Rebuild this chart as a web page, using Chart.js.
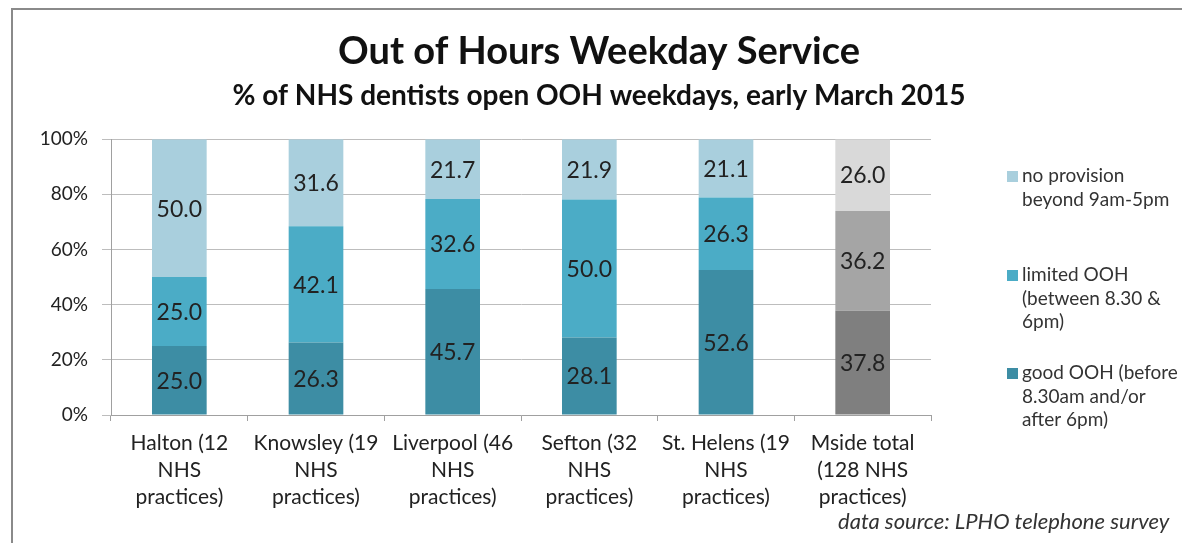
<!DOCTYPE html>
<html>
<head>
<meta charset="utf-8">
<script src="https://cdn.jsdelivr.net/npm/chart.js@4/dist/chart.umd.min.js"></script>
<style>
  html, body { margin: 0; padding: 0; background: #fff; }
  #wrap { position: relative; width: 1182px; height: 543px; overflow: hidden; }
  #frame { position: absolute; left: 11px; top: 8px; width: 1200px; height: 600px; border: 2px solid #8a8a8a; box-sizing: border-box; }
  #source { position: absolute; left: 838px; top: 507px; font: italic 22px Lato, sans-serif; color: #333; }
</style>
</head>
<body>
<div id="wrap">
  <div id="frame"></div>
  <canvas id="chart" width="1182" height="543"></canvas>
  <div id="source">data source: LPHO telephone survey</div>
</div>
<script>
const categories = [
  ['Halton (12', 'NHS', 'practices)'],
  ['Knowsley (19', 'NHS', 'practices)'],
  ['Liverpool (46', 'NHS', 'practices)'],
  ['Sefton (32', 'NHS', 'practices)'],
  ['St. Helens (19', 'NHS', 'practices)'],
  ['Mside total', '(128 NHS', 'practices)']
];
const goodOOH = [25.0, 26.3, 45.7, 28.1, 52.6, 37.8];
const limitedOOH = [25.0, 42.1, 32.6, 50.0, 26.3, 36.2];
const noProvision = [50.0, 31.6, 21.7, 21.9, 21.1, 26.0];
const yTicks = ['0%', '20%', '40%', '60%', '80%', '100%'];

const legendLines = {
  noProvision: ['no provision', 'beyond 9am-5pm'],
  limited: ['limited OOH', '(between 8.30 &', '6pm)'],
  good: ['good OOH (before', '8.30am and/or', 'after 6pm)']
};

// blue for the boroughs, grey for the merseyside total
function colours(blue, grey) {
  return categories.map((c, i) => i === categories.length - 1 ? grey : blue);
}

const FONT = 'Lato';

const valueLabels = {
  id: 'valueLabels',
  afterDatasetsDraw(chart) {
    const ctx = chart.ctx;
    ctx.save();
    ctx.font = '23px ' + FONT;
    ctx.fillStyle = '#222';
    ctx.textAlign = 'center';
    ctx.textBaseline = 'middle';
    chart.data.datasets.forEach((ds, di) => {
      chart.getDatasetMeta(di).data.forEach((bar, i) => {
        const mid = (bar.y + bar.base) / 2;
        ctx.fillText(ds.data[i].toFixed(1), bar.x, mid + 1);
      });
    });
    ctx.restore();
  }
};

const sideLegend = {
  id: 'sideLegend',
  afterDraw(chart) {
    const ctx = chart.ctx;
    const items = [
      { ds: 2, lines: legendLines.noProvision, y: 176 },
      { ds: 1, lines: legendLines.limited, y: 275 },
      { ds: 0, lines: legendLines.good, y: 373 }
    ];
    ctx.save();
    ctx.font = '19px ' + FONT;
    ctx.textBaseline = 'middle';
    items.forEach(it => {
      ctx.fillStyle = chart.data.datasets[it.ds].backgroundColor[0];
      ctx.fillRect(1007, it.y - 5, 11, 11);
      ctx.fillStyle = '#333';
      it.lines.forEach((l, k) => ctx.fillText(l, 1022, it.y + k * 23.5));
    });
    ctx.restore();
  }
};

new Chart(document.getElementById('chart'), {
  type: 'bar',
  data: {
    labels: categories,
    datasets: [
      { label: 'good OOH', data: goodOOH, backgroundColor: colours('#3D8DA4', '#7F7F7F') },
      { label: 'limited OOH', data: limitedOOH, backgroundColor: colours('#4BACC6', '#A5A5A5') },
      { label: 'no provision', data: noProvision, backgroundColor: colours('#A9CFDD', '#D9D9D9') }
    ]
  },
  options: {
    responsive: false,
    animation: false,
    layout: { padding: { left: 16, right: 0, top: 0, bottom: 0 } },
    datasets: { bar: { categoryPercentage: 1, barPercentage: 0.4 } },
    scales: {
      x: {
        stacked: true,
        grid: { drawOnChartArea: false, drawTicks: true, tickLength: 6, color: '#a0a0a0' },
        border: { color: '#a0a0a0' },
        ticks: { color: '#222', font: { family: FONT, size: 21, lineHeight: 1.29 }, maxRotation: 0, autoSkip: false, padding: 9 },
        afterFit(s) { s.height = 128; }
      },
      y: {
        stacked: true,
        min: 0, max: 100,
        ticks: {
          stepSize: 20,
          color: '#222',
          font: { family: FONT, size: 19 },
          padding: 14,
          callback: (v, i) => yTicks[i]
        },
        grid: { color: '#bdbdbd', tickLength: 9 },
        border: { color: '#a0a0a0' },
        afterFit(s) { s.width = 95; }
      },
      // empty axis that just reserves room for the legend on the right
      side: {
        position: 'right',
        min: 0, max: 100,
        ticks: { display: false },
        grid: { display: false },
        border: { display: false },
        afterFit(s) { s.width = 251; }
      }
    },
    plugins: {
      legend: { display: false },
      tooltip: { enabled: false },
      title: {
        display: true,
        text: 'Out of Hours Weekday Service',
        color: '#111',
        font: { family: FONT, size: 38, weight: 'bold' },
        padding: { top: 29, bottom: 5 }
      },
      subtitle: {
        display: true,
        text: '% of NHS dentists open OOH weekdays, early March 2015',
        color: '#111',
        font: { family: FONT, size: 28, weight: 'bold' },
        padding: { top: 0, bottom: 26 }
      }
    }
  },
  plugins: [valueLabels, sideLegend]
});
</script>
</body>
</html>
